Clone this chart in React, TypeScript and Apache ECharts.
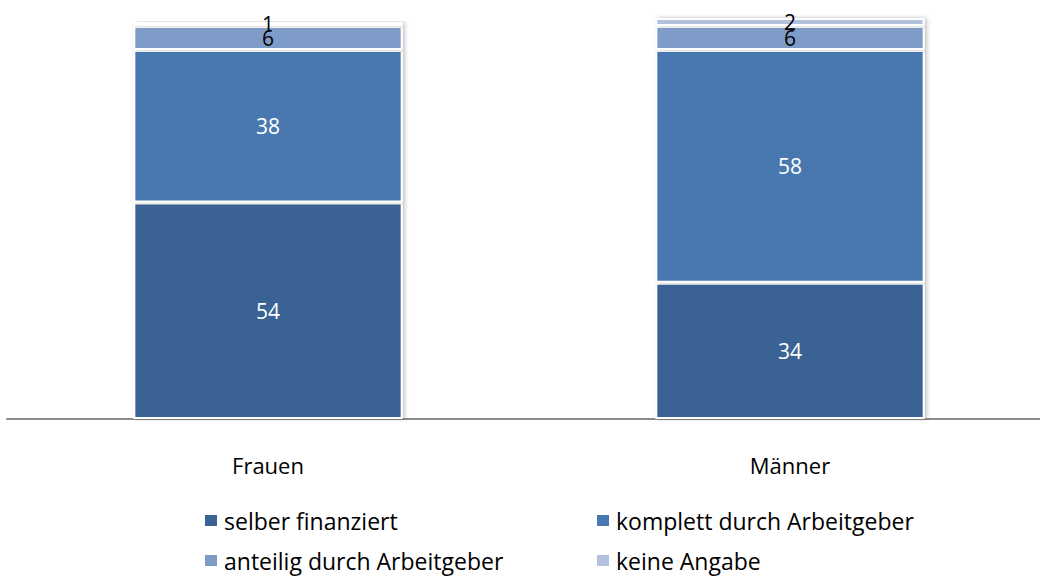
import React, { useEffect, useRef } from "react";
import * as echarts from "echarts";

const categories = ["Frauen", "Männer"];
const seriesNames = ["selber finanziert", "komplett durch Arbeitgeber", "anteilig durch Arbeitgeber", "keine Angabe"];
const selber = [54, 34];
const komplett = [38, 58];
const anteilig = [6, 6];
const keine = [1, 2];
const colors = ["#3A6294", "#4A78B0", "#7F9CC9", "#B2C2DE"];
const labelColors = ["#ffffff", "#ffffff", "#000000", "#000000"];

const FONT = "Open Sans";

export default function App() {
  const ref = useRef<HTMLDivElement>(null);
  useEffect(() => {
    if (!ref.current) return;
    const chart = echarts.init(ref.current, null, { renderer: "svg" });
    const values = [selber, komplett, anteilig, keine];
    const legendPos = [
      { left: 203, top: 509 },
      { left: 595, top: 509 },
      { left: 203, top: 549 },
      { left: 595, top: 549 },
    ];
    chart.setOption({
      animation: false,
      textStyle: { fontFamily: FONT },
      grid: { left: 7, top: 18, width: 1044, height: 401, containLabel: false },
      xAxis: {
        type: "category",
        data: categories,
        axisLine: { show: true, lineStyle: { color: "#8c8c8c", width: 2 } },
        axisTick: { show: false },
        axisLabel: { color: "#000", fontSize: 22, fontFamily: FONT, margin: 35 },
      },
      yAxis: {
        type: "value",
        min: 0,
        max: 100,
        show: false,
        splitLine: { show: false },
      },
      legend: legendPos.map((p, i) => ({
        data: [seriesNames[i]],
        left: p.left,
        top: p.top,
        icon: "rect",
        itemWidth: 14,
        itemHeight: 13,
        itemGap: 0,
        textStyle: { color: "#000", fontSize: 23, fontFamily: FONT, padding: [0, 0, 0, 1] },
        padding: 0,
      })),
      series: values.map((v, i) => ({
        name: seriesNames[i],
        type: "bar",
        stack: "total",
        data: v,
        barWidth: "51.6%",
        itemStyle: {
          color: colors[i],
          borderColor: "#ffffff",
          borderWidth: 2,
          shadowColor: "rgba(0,0,0,0.25)",
          shadowBlur: 4,
          shadowOffsetX: 2,
        },
        label: {
          show: true,
          position: "inside",
          color: labelColors[i],
          fontSize: 21,
          fontFamily: FONT,
        },
      })),
    });
    return () => chart.dispose();
  }, []);
  return (
    <div style={{ position: "absolute", left: 0, top: 0, width: 1040, height: 576, overflow: "hidden", background: "#fff" }}>
      <div ref={ref} style={{ position: "absolute", left: 0, top: 0, width: 1060, height: 576 }} />
    </div>
  );
}
